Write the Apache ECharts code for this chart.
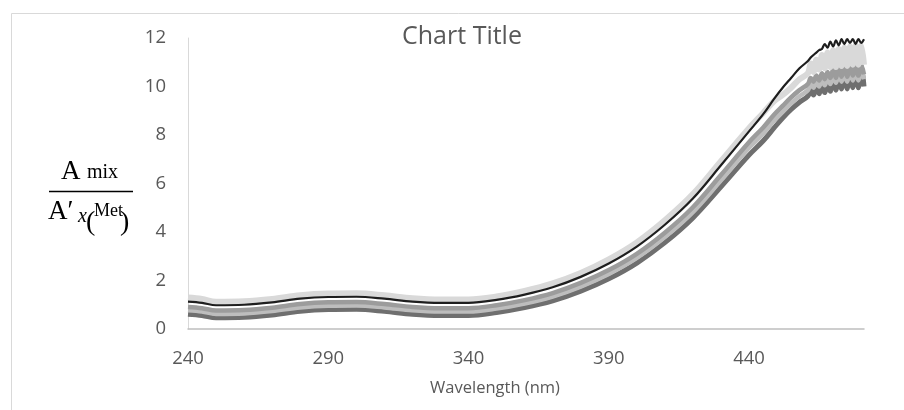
<!DOCTYPE html>
<html>
<head>
<meta charset="utf-8">
<script src="https://cdn.jsdelivr.net/npm/echarts@6/dist/echarts.min.js"></script>
<style>html,body{margin:0;padding:0;background:#fff}#c{width:904px;height:410px}</style>
</head>
<body>
<div id="c"></div>
<script>
// Wavelength (nm)
const wavelengths = [240,245,250,260,270,280,290,300,310,320,330,340,350,360,370,380,390,400,410,420,430,440,445,449,452,455,458,
  461,462,463,464,465,466,467,468,469,470,471,472,473,474,475,476,477,478,479,480,481];
// Series values (ratio A_mix / A'x(Met))
const seriesBlack = [1.13,1.08,0.98,1.0,1.1,1.25,1.32,1.33,1.25,1.13,1.08,1.08,1.2,1.42,1.72,2.15,2.7,3.4,4.3,5.38,6.75,8.15,8.85,9.5,9.95,10.35,10.75,
  11.05,11.2,11.3,11.4,11.5,11.55,11.75,11.6,11.85,11.65,11.9,11.7,11.95,11.75,11.95,11.8,11.95,11.75,11.95,11.8,11.95];
const seriesLight = [1.3,1.24,1.12,1.14,1.24,1.39,1.46,1.47,1.39,1.27,1.22,1.22,1.34,1.57,1.88,2.31,2.87,3.57,4.48,5.56,6.92,8.28,8.9,9.4,9.65,9.95,10.3,
  10.55,10.95,10.6,11.1,10.7,11.3,10.75,11.4,10.8,11.5,10.8,11.55,10.85,11.6,10.85,11.65,10.9,11.7,10.9,11.7,10.9];
const seriesMid = [0.91,0.86,0.76,0.78,0.88,1.03,1.1,1.11,1.03,0.91,0.86,0.86,0.98,1.19,1.48,1.9,2.43,3.1,3.97,5.02,6.35,7.7,8.3,8.85,9.2,9.55,9.85,
  10.1,10.35,10.2,10.45,10.25,10.55,10.3,10.6,10.35,10.7,10.35,10.75,10.4,10.8,10.4,10.85,10.45,10.9,10.45,10.9,10.5];
const seriesPale = [0.77,0.72,0.62,0.64,0.74,0.89,0.96,0.97,0.89,0.77,0.72,0.72,0.84,1.05,1.34,1.75,2.27,2.93,3.79,4.82,6.13,7.47,8.05,8.6,8.95,9.3,9.6,
  9.85,10.1,9.95,10.2,10.0,10.3,10.05,10.35,10.1,10.45,10.15,10.5,10.2,10.55,10.2,10.6,10.25,10.6,10.25,10.65,10.3];
const seriesDark = [0.61,0.56,0.46,0.48,0.58,0.73,0.8,0.81,0.73,0.61,0.56,0.56,0.68,0.88,1.16,1.56,2.07,2.72,3.56,4.58,5.86,7.17,7.75,8.3,8.7,9.05,9.35,
  9.6,9.9,9.65,10.05,9.7,10.25,9.75,10.35,9.8,10.5,9.85,10.6,9.9,10.7,9.9,10.8,9.95,10.85,9.95,10.9,10.0];
const xTicks = [240,290,340,390,440];
const yTicks = [0,2,4,6,8,10,12];

const pair = arr => wavelengths.map((w,i)=>[w,arr[i]]);
const mk = (name, arr, color, width) => ({
  name, type:'line', data: pair(arr), showSymbol:false, smooth:0.35,
  lineStyle:{color, width, join:'round'}, itemStyle:{color}, z:2
});

const chart = echarts.init(document.getElementById('c'), null, {renderer:'canvas'});
const labelFont = {fontFamily:'Open Sans', fontSize:18.5, color:'#595959'};
const serif = '"Liberation Serif"';
chart.setOption({
  animation:false,
  backgroundColor:'#fff',
  grid:{left:188, right:40, top:38, bottom:81, containLabel:false},
  xAxis:{
    type:'value', min:240, max:481, interval:50,
    axisLine:{show:true, lineStyle:{color:'#bfbfbf', width:1.5}},
    axisTick:{show:false}, splitLine:{show:false},
    axisLabel:Object.assign({margin:20, showMaxLabel:false,
      formatter: v => xTicks.includes(v) ? String(v) : ''}, labelFont)
  },
  yAxis:{
    type:'value', min:0, max:12, interval:2,
    axisLine:{show:true, lineStyle:{color:'#d9d9d9', width:1}},
    axisTick:{show:false}, splitLine:{show:false},
    axisLabel:Object.assign({margin:22, formatter: v => yTicks.includes(v) ? String(v) : ''}, labelFont)
  },
  series:[
    mk('S5', seriesDark, '#6f6f6f', 5),
    mk('S4', seriesPale, '#bdbdbd', 4.5),
    mk('S3', seriesMid, '#9c9c9c', 4.5),
    mk('S1', seriesLight, '#d9d9d9', 6),
    mk('S2', seriesBlack, '#1e1e1e', 2.2)
  ],
  graphic:[
    {type:'rect', left:9, top:11, shape:{x:0,y:0,width:1000,height:1000}, style:{fill:null, stroke:'#d9d9d9', lineWidth:1}, silent:true, z:-1},
    {type:'text', x:462, y:37, style:{text:'Chart Title', font:'25px "Open Sans"', fill:'#595959', textAlign:'center', textVerticalAlign:'middle'}},
    {type:'text', x:495, y:388, style:{text:'Wavelength (nm)', font:'16.5px "Open Sans"', fill:'#595959', textAlign:'center', textVerticalAlign:'middle'}},
    // y-axis title drawn as a fraction
    {type:'text', x:61, y:185, style:{text:'A', font:'27px ' + serif, fill:'#000', textAlign:'left', textVerticalAlign:'bottom'}},
    {type:'text', x:87, y:183, style:{text:'mix', font:'20px ' + serif, fill:'#000', textAlign:'left', textVerticalAlign:'bottom'}},
    {type:'line', shape:{x1:49, y1:191.5, x2:133, y2:191.5}, style:{stroke:'#000', lineWidth:1.3}},
    {type:'text', x:48, y:225, style:{text:'A′', font:'27px ' + serif, fill:'#000', textAlign:'left', textVerticalAlign:'bottom'}},
    {type:'text', x:78, y:227, style:{text:'x', font:'italic 20px ' + serif, fill:'#000', textAlign:'left', textVerticalAlign:'bottom'}},
    {type:'text', x:86, y:237, style:{text:'(', font:'28px ' + serif, fill:'#000', textAlign:'left', textVerticalAlign:'bottom'}},
    {type:'text', x:94, y:220, style:{text:'Met', font:'18px ' + serif, fill:'#000', textAlign:'left', textVerticalAlign:'bottom'}},
    {type:'text', x:120, y:237, style:{text:')', font:'28px ' + serif, fill:'#000', textAlign:'left', textVerticalAlign:'bottom'}}
  ]
});
</script>
</body>
</html>
